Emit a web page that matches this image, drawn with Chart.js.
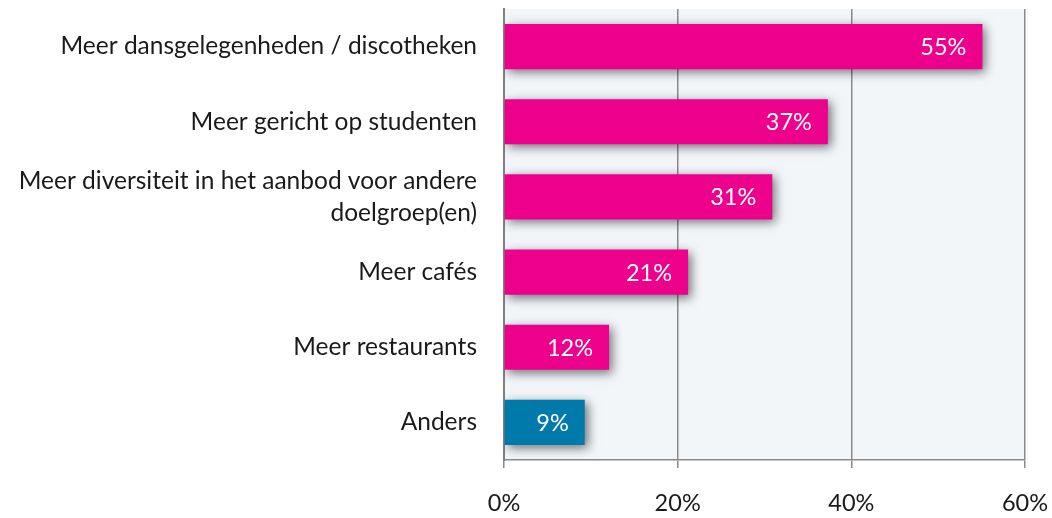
<!DOCTYPE html>
<html lang="nl">
<head>
    <meta charset="UTF-8">
    <title>Wensen uitgaansaanbod</title>
    <style>
        html, body {
            margin: 0;
            padding: 0;
            background: #ffffff;
        }
        #wrap {
            width: 1052px;
            height: 518px;
        }
    </style>
    <script src="https://cdn.jsdelivr.net/npm/chart.js@4.4.1/dist/chart.umd.min.js"></script>
</head>
<body>
    <div id="wrap"><canvas id="wensenChart"></canvas></div>

    <script>
        // Data
        const categories = [
            'Meer dansgelegenheden / discotheken',
            'Meer gericht op studenten',
            ['Meer diversiteit in het aanbod voor andere', 'doelgroep(en)'],
            'Meer cafés',
            'Meer restaurants',
            'Anders'
        ];
        const percentages = [55.1, 37.3, 30.9, 21.2, 12.1, 9.3];
        const xTicks = [0, 20, 40, 60];

        const pink = '#EC008C';
        const blue = '#0079AB';
        const barColors = categories.map((c, i) => i === categories.length - 1 ? blue : pink);

        const fontFamily = 'Lato, "Open Sans", sans-serif';

        // light plot background
        const plotBackground = {
            id: 'plotBackground',
            beforeDraw(chart) {
                const { ctx, chartArea } = chart;
                ctx.save();
                ctx.fillStyle = '#F2F6F9';
                ctx.fillRect(chartArea.left, chartArea.top, chartArea.right - chartArea.left, chartArea.bottom - chartArea.top);
                ctx.restore();
            }
        };

        // drop shadow under the bars
        const barShadow = {
            id: 'barShadow',
            beforeDatasetDraw(chart) {
                const ctx = chart.ctx;
                ctx.save();
                ctx.shadowColor = 'rgba(0, 0, 0, 0.55)';
                ctx.shadowBlur = 10;
                ctx.shadowOffsetX = 3;
                ctx.shadowOffsetY = 3;
            },
            afterDatasetDraw(chart) {
                chart.ctx.restore();
            }
        };

        // white value labels at the end of each bar
        const valueLabels = {
            id: 'valueLabels',
            afterDatasetsDraw(chart) {
                const ctx = chart.ctx;
                const meta = chart.getDatasetMeta(0);
                ctx.save();
                ctx.fillStyle = '#ffffff';
                ctx.font = '23.5px ' + fontFamily;
                ctx.textAlign = 'right';
                ctx.textBaseline = 'middle';
                meta.data.forEach((bar, i) => {
                    ctx.fillText(Math.round(percentages[i]) + '%', bar.x - 16, bar.y + 1);
                });
                ctx.restore();
            }
        };

        const ctxWensen = document.getElementById('wensenChart').getContext('2d');
        new Chart(ctxWensen, {
            type: 'bar',
            data: {
                labels: categories,
                datasets: [{
                    data: percentages,
                    backgroundColor: barColors,
                    borderWidth: 0,
                    categoryPercentage: 0.6,
                    barPercentage: 1.0
                }]
            },
            options: {
                indexAxis: 'y',
                responsive: true,
                maintainAspectRatio: false,
                animation: false,
                layout: {
                    padding: { top: 9, right: 27, bottom: 0, left: 0 }
                },
                plugins: {
                    legend: { display: false },
                    tooltip: { enabled: false }
                },
                scales: {
                    x: {
                        min: 0,
                        max: 60,
                        afterBuildTicks(scale) {
                            scale.ticks = xTicks.map(v => ({ value: v }));
                        },
                        afterFit(scale) {
                            scale.height = 58;
                            scale.paddingLeft = 0;
                            scale.paddingRight = 0;
                        },
                        grid: {
                            color: '#8a8a8a',
                            lineWidth: 1.5,
                            tickLength: 8,
                            drawTicks: true
                        },
                        border: { display: true, color: '#8a8a8a', width: 1.5 },
                        ticks: {
                            padding: 21,
                            color: '#1a1a1a',
                            font: { family: fontFamily, size: 23.5 },
                            callback: v => v + '%'
                        }
                    },
                    y: {
                        afterFit(scale) {
                            scale.width = 504;
                            scale.paddingTop = 0;
                            scale.paddingBottom = 0;
                        },
                        grid: { display: false, drawTicks: false },
                        border: { display: true, color: '#808080', width: 2 },
                        ticks: {
                            padding: 27,
                            color: '#1a1a1a',
                            font: { family: fontFamily, size: 24.5, lineHeight: 1.3 }
                        }
                    }
                }
            },
            plugins: [plotBackground, barShadow, valueLabels]
        });
    </script>
</body>
</html>
